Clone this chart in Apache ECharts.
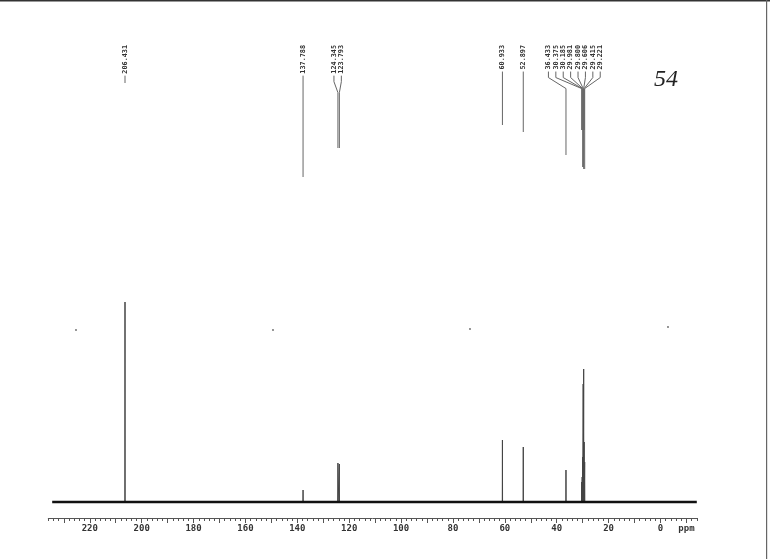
<!DOCTYPE html>
<html>
<head>
<meta charset="utf-8">
<script src="https://cdn.jsdelivr.net/npm/echarts@6/dist/echarts.min.js"></script>
<style>
html,body{margin:0;padding:0;background:#fff;}
#main{width:770px;height:559px;}
</style>
</head>
<body>
<div id="main"></div>
<script>
// ---- data ----
const peakPpm = [206.431, 137.788, 124.345, 123.793, 60.933, 52.897, 36.433, 30.375, 30.185, 29.981, 29.800, 29.606, 29.415, 29.221];
const peakHeight = [200, 12, 39, 38, 62, 55, 32, 20, 25, 45, 118, 133, 60, 40];
const labelPpm = [206.431, 137.788, 124.345, 123.793, 60.933, 52.897, 36.433, 30.375, 30.185, 29.981, 29.800, 29.606, 29.415, 29.221];
const labelText = ['206.431', '137.788', '124.345', '123.793', '60.933', '52.897', '36.433', '30.375', '30.185', '29.981', '29.800', '29.606', '29.415', '29.221'];
const baselineRange = [234.5, -14];
const axisTickValuesMajor = [-10, 0, 10, 20, 30, 40, 50, 60, 70, 80, 90, 100, 110, 120, 130, 140, 150, 160, 170, 180, 190, 200, 210, 220, 230];
const axisLabelValues = [0, 20, 40, 60, 80, 100, 120, 140, 160, 180, 200, 220];
const unitLabelValue = -10;
const unitText = 'ppm';

// ---- layout (pixels) for label leader lines ----
const labelLineEnd = [83, 177, 148, 148, 125, 132, 155, 130, 130, 167, 167, 169, 130, 169];

// build spectrum points from peaks
const spectrum = [];
peakPpm.forEach((p, i) => {
  spectrum.push([p + 0.05, 0], [p, peakHeight[i]], [p - 0.05, 0]);
});
const baseline = [[baselineRange[0], 0], [baselineRange[1], 0]];

function layoutLabels(xs) {
  const sp = 7.4;
  const order = xs.map((x, i) => i).sort((a, b) => xs[a] - xs[b]);
  let groups = order.map(i => ({idx: [i]}));
  function place(g) {
    const v = g.idx.map(i => xs[i]);
    const mn = Math.min(...v), mx = Math.max(...v);
    const c = g.idx.length === 1 ? mn : (mn + mx) / 2 - 1;
    g.start = c - (g.idx.length - 1) / 2 * sp;
    g.end = c + (g.idx.length - 1) / 2 * sp;
  }
  groups.forEach(place);
  let changed = true;
  while (changed) {
    changed = false;
    for (let k = 0; k < groups.length - 1; k++) {
      if (groups[k].end + sp > groups[k + 1].start) {
        groups[k].idx = groups[k].idx.concat(groups[k + 1].idx);
        groups.splice(k + 1, 1);
        place(groups[k]);
        changed = true;
        break;
      }
    }
  }
  const out = new Array(xs.length);
  groups.forEach(g => g.idx.forEach((i, k) => { out[i] = g.start + k * sp; }));
  return out;
}

const chart = echarts.init(document.getElementById('main'), null, {renderer: 'canvas'});
const fontSize = 6.8;
const option = {
  backgroundColor: '#fff',
  animation: false,
  grid: {left: 48.3, right: 73.2, top: 292, bottom: 41},
  xAxis: [{
    type: 'value', inverse: true, min: -14, max: 236, interval: 2,
    axisLine: {onZero: false, lineStyle: {color: '#555', width: 1}},
    axisTick: {length: 3, lineStyle: {color: '#555'}},
    splitLine: {show: false},
    axisLabel: {
      margin: 6, color: '#333', fontSize: 9, fontWeight: 'bold',
      fontFamily: 'DejaVu Sans Mono',
      customValues: axisLabelValues.concat([unitLabelValue]),
      formatter: v => (v === unitLabelValue ? unitText : String(v))
    }
  }, {
    type: 'value', inverse: true, min: -14, max: 236, position: 'bottom',
    axisLine: {show: false, onZero: false},
    axisTick: {show: true, length: 5, customValues: axisTickValuesMajor, lineStyle: {color: '#555'}},
    axisLabel: {show: false},
    splitLine: {show: false}
  }],
  yAxis: {type: 'value', min: -16, max: 210, show: false},
  series: [{
    type: 'line', data: spectrum, showSymbol: false, symbol: 'none',
    lineStyle: {color: '#444', width: 1}, z: 2
  }, {
    type: 'line', data: baseline, showSymbol: false, symbol: 'none',
    lineStyle: {color: '#111', width: 2.5}, z: 3
  }, {
    type: 'custom', clip: false, silent: true, z: 4,
    data: labelPpm.map((p, i) => [p, 0, i]),
    renderItem: function (params, api) {
      const i = params.dataIndex;
      const xs = labelPpm.map(p => api.coord([p, 0])[0]);
      const lx = layoutLabels(xs)[i];
      const px = xs[i];
      const top = 45;
      const tEnd = top + labelText[i].length * 0.602 * fontSize + 2;
      let pts;
      if (Math.abs(lx - px) < 0.6) pts = [[lx, tEnd], [lx, labelLineEnd[i]]];
      else pts = [[lx, tEnd], [lx, tEnd + 6], [px, tEnd + 17], [px, labelLineEnd[i]]];
      return {
        type: 'group',
        children: [{
          type: 'text', x: lx, y: top, rotation: Math.PI / 2,
          style: {text: labelText[i], fontSize: fontSize, fontFamily: 'DejaVu Sans Mono', fontWeight: 'bold',
            fill: '#333', align: 'right', verticalAlign: 'middle'}
        }, {
          type: 'polyline', shape: {points: pts},
          style: {stroke: '#666', lineWidth: 1, fill: null}
        }]
      };
    }
  }],
  graphic: [
    {type: 'rect', left: 0, top: 0, shape: {width: 770, height: 1.5}, style: {fill: '#333'}},
    {type: 'rect', left: 766, top: 0, shape: {width: 1.2, height: 559}, style: {fill: '#666'}},
    {type: 'text', left: 654, top: 68, style: {text: '54', fontSize: 24, fontStyle: 'italic', fontFamily: 'Liberation Serif', fill: '#222'}},
    {type: 'circle', shape: {cx: 76, cy: 330, r: 0.9}, style: {fill: '#666'}},
    {type: 'circle', shape: {cx: 273, cy: 330, r: 0.9}, style: {fill: '#666'}},
    {type: 'circle', shape: {cx: 470, cy: 329, r: 0.9}, style: {fill: '#666'}},
    {type: 'circle', shape: {cx: 668, cy: 327, r: 0.9}, style: {fill: '#666'}}
  ]
};
chart.setOption(option);
</script>
</body>
</html>
